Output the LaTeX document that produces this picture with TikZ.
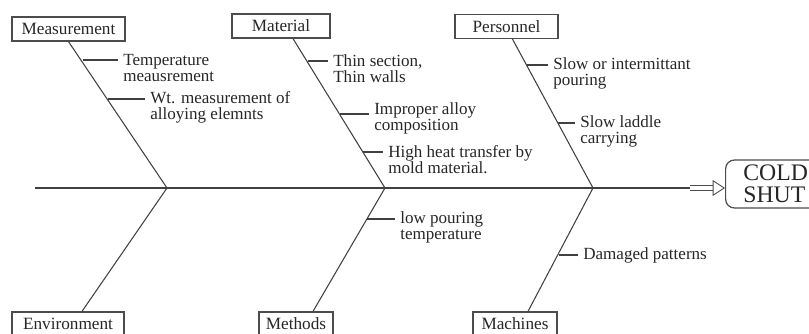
\documentclass[tikz,border=0pt]{standalone}
\usepackage{fontspec}
\setmainfont{Liberation Serif}
\usepackage{xcolor}
\usetikzlibrary{arrows.meta}

\tikzset{
	cause/.style={draw=black!70, line width=0.7pt, minimum height=0.48cm, inner sep=0pt, text=black!85, font=\fontsize{9.8}{10}\selectfont},
	sub/.style={anchor=west, align=left, inner xsep=3pt, inner ysep=0pt, text=black!85, font=\fontsize{9.7}{9.1}\selectfont},
	bone/.style={draw=black!75, line width=0.6pt},
}

\begin{document}
\begin{tikzpicture}[x=0.02cm,y=-0.02cm]
\useasboundingbox (0,0) rectangle (809,334);
%\draw[help lines] (0,0) grid[step=50] (809,334);
	\node[cause,minimum width=2.26cm] at (68.5,29) (meas) {Measurement};
	\node[cause,minimum width=1.96cm] at (281,26) (mat) {Material};
	\node[cause,minimum width=2.06cm] at (506.5,26.5) (pers) {Personnel};
	\node[cause,minimum width=2.24cm] at (68,324) (env) {Environment};
	\node[cause,minimum width=1.48cm] at (296,324) (meth) {Methods};
	\node[cause,minimum width=1.68cm] at (515,324) (mach) {Machines};
	\node[draw=black!70, line width=0.7pt, rounded corners=5pt, anchor=west, align=left, inner xsep=2pt, inner ysep=0pt,
		minimum width=2cm, minimum height=0.96cm, text=black!85, font=\fontsize{13.5}{12.5}\selectfont] at (725,184) (shut) {COLD\\SHUT};
	\coordinate (tail) at (35,188);
	\coordinate (head) at (690,188);
	\coordinate (j1) at (167,188);
	\coordinate (j2) at (385,188);
	\coordinate (j3) at (593,188);
	\draw[bone] (tail) -- (head);
	\draw[black!70, line width=0.5pt, double=white, double distance=2pt, -{Triangle[open,length=7pt,width=9pt]}] (head) -- (head -| shut.west);
	\draw[bone] (meas.south) -- (j1) -- ([xshift=0.28cm]env.north);
	\draw[bone] ([xshift=0.24cm]mat.south) -- (j2) -- ([xshift=0.34cm]meth.north);
	\draw[bone] ([xshift=0.12cm]pers.south) -- (j3) -- ([xshift=0.26cm]mach.north);
	% sub causes
	\node[sub] at (117.7,68) (t11) {Temperature\\meausrement};
	\node[sub] at (144.7,107) (t12) {Wt. measurement of\\alloying elemnts};
	\node[sub] at (327.7,69) (t21) {Thin section,\\Thin walls};
	\node[sub] at (368.7,118) (t22) {Improper alloy\\composition};
	\node[sub] at (382.7,160) (t23) {High heat transfer by\\mold material.};
	\node[sub] at (547.7,73) (t31) {Slow or intermittant\\pouring};
	\node[sub] at (574.7,131) (t32) {Slow laddle\\carrying};
	\node[sub] at (394.7,227) (t41) {low pouring\\temperature};
	\node[sub] at (577.7,255) (t51) {Damaged patterns};
	\coordinate (c11) at (82.5,60);
	\coordinate (c12) at (108.3,99);
	\coordinate (c21) at (307.6,61);
	\coordinate (c22) at (339.9,114);
	\coordinate (c23) at (363,152);
	\coordinate (c31) at (527,65);
	\coordinate (c32) at (558.1,123);
	\coordinate (c41) at (367.4,219);
	\coordinate (c51) at (558.7,255);
	\foreach \n in {11,12,21,22,23,31,32,41,51}
		\draw[bone] (c\n) -- (c\n -| t\n.west);
\end{tikzpicture}
\end{document}
